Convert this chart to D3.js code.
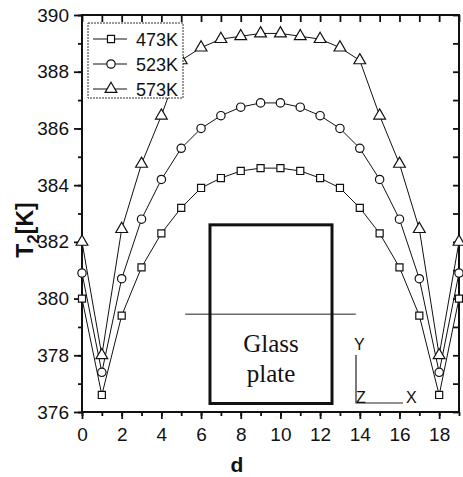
<!DOCTYPE html>
<html>
<head>
<meta charset="utf-8">
<script src="https://cdnjs.cloudflare.com/ajax/libs/d3/7.8.5/d3.min.js"></script>
<style>
	body { margin: 0; background: #fff; }
	text { font-family: Arial, "Liberation Sans", sans-serif; fill: #111; }
	.series path.line { fill: none; stroke: #111; stroke-width: 1; }
	.mark { fill: #fff; stroke: #111; stroke-width: 1.2; }
</style>
</head>
<body>
<div id="chart"></div>
<script>
// data
var dValues = d3.range(0, 20);
var seriesNames = ["473K", "523K", "573K"];
var t473 = [380.0, 376.6, 379.4, 381.1, 382.3, 383.2, 383.9, 384.25, 384.5, 384.6,
            384.6, 384.5, 384.25, 383.9, 383.2, 382.3, 381.1, 379.4, 376.6, 380.0];
var t523 = [380.9, 377.4, 380.7, 382.8, 384.2, 385.3, 386.0, 386.45, 386.75, 386.9,
            386.9, 386.75, 386.45, 386.0, 385.3, 384.2, 382.8, 380.7, 377.4, 380.9];
var t573 = [382.0, 378.0, 382.45, 384.75, 386.45, 388.4, 388.85, 389.15, 389.25, 389.35,
            389.35, 389.25, 389.15, 388.85, 388.4, 386.45, 384.75, 382.45, 378.0, 382.0];
var xTicks = [0, 2, 4, 6, 8, 10, 12, 14, 16, 18];
var yTicks = [376, 378, 380, 382, 384, 386, 388, 390];
var symbols = [d3.symbolSquare, d3.symbolCircle, d3.symbolTriangle];

var W = 463, H = 477;
var margin = {left: 82, top: 15, right: 4, bottom: 65};

var svg = d3.select("#chart").append("svg")
	.attr("width", W).attr("height", H);

var x = d3.scaleLinear().domain([0, 19]).range([margin.left, W - margin.right]);
var y = d3.scaleLinear().domain([376, 390]).range([H - margin.bottom, margin.top]);

// glass plate sketch (in data coords)
var g0 = svg.append("g");
var serif = "'Liberation Serif', 'DejaVu Serif', serif";
g0.append("line")
	.attr("x1", x(5.2)).attr("x2", x(13.8))
	.attr("y1", y(379.45)).attr("y2", y(379.45))
	.attr("stroke", "#222").attr("stroke-width", 1);
g0.append("rect")
	.attr("x", x(6.45)).attr("y", y(382.6))
	.attr("width", x(12.6) - x(6.45)).attr("height", y(376.3) - y(382.6))
	.attr("fill", "none").attr("stroke", "#111").attr("stroke-width", 3);
g0.append("text").attr("x", (x(6.45) + x(12.6)) / 2).attr("y", 352)
	.attr("text-anchor", "middle").style("font-family", serif)
	.style("font-size", "25px").text("Glass");
g0.append("text").attr("x", (x(6.45) + x(12.6)) / 2).attr("y", 382)
	.attr("text-anchor", "middle").style("font-family", serif)
	.style("font-size", "25px").text("plate");
// little coordinate icon
g0.append("path").attr("d", "M356,355V403H403").attr("fill", "none").attr("stroke", "#222").attr("stroke-width", 1.2);
g0.append("text").attr("x", 354).attr("y", 350).style("font-size", "16px").text("Y");
g0.append("text").attr("x", 356).attr("y", 403).style("font-size", "16px").text("Z");
g0.append("text").attr("x", 406).attr("y", 403).style("font-size", "16px").text("X");

// frame
svg.append("rect")
	.attr("x", x(0)).attr("y", y(390))
	.attr("width", x(19) - x(0)).attr("height", y(376) - y(390))
	.attr("fill", "none").attr("stroke", "#111").attr("stroke-width", 2);

// axes: bottom/left ticks outward, top/right mirror ticks inward
var minorX = d3.range(0, 20), minorY = d3.range(376, 391);
var axB = d3.axisBottom(x).tickValues(xTicks).tickSize(7).tickPadding(9).tickFormat(d3.format("d"));
var axBm = d3.axisBottom(x).tickValues(minorX).tickSize(4).tickFormat("");
var axT = d3.axisTop(x).tickValues(minorX).tickSize(-7).tickFormat("");
var axL = d3.axisLeft(y).tickValues(yTicks).tickSize(8).tickPadding(5).tickFormat(d3.format("d"));
var axLm = d3.axisLeft(y).tickValues(minorY).tickSize(4).tickFormat("");
var axR = d3.axisRight(y).tickValues(minorY).tickSize(-6).tickFormat("");

function styleAxis(g) {
	g.select(".domain").remove();
	g.selectAll(".tick line").attr("stroke", "#111").attr("stroke-width", 1.8);
	g.selectAll(".tick text").style("font-size", "19px").style("font-family", "Arial, 'Liberation Sans', sans-serif").attr("fill", "#111");
}
svg.append("g").attr("transform", "translate(0," + y(376) + ")").call(axB).call(styleAxis);
svg.append("g").attr("transform", "translate(0," + y(376) + ")").call(axBm).call(styleAxis);
svg.append("g").attr("transform", "translate(0," + y(390) + ")").call(axT).call(styleAxis);
svg.append("g").attr("transform", "translate(" + x(0) + ",0)").call(axL).call(styleAxis);
svg.append("g").attr("transform", "translate(" + x(0) + ",0)").call(axLm).call(styleAxis);
svg.append("g").attr("transform", "translate(" + x(19) + ",0)").call(axR).call(styleAxis);

// axis titles
svg.append("text").attr("x", 237).attr("y", 472).attr("text-anchor", "middle")
	.style("font-size", "21px").style("font-weight", "bold").text("d");
var yt = svg.append("text").attr("transform", "translate(33,230) rotate(-90)")
	.attr("text-anchor", "middle").style("font-size", "23px").style("font-weight", "bold");
yt.append("tspan").text("T");
yt.append("tspan").attr("dy", 6).style("font-size", "17px").text("2");
yt.append("tspan").attr("dy", -6).text("[K]");

// series
var allSeries = [t473, t523, t573];
var line = d3.line().x(function(d, i) { return x(dValues[i]); }).y(function(d) { return y(d); });
var sizes = [50, 55, 60];
allSeries.forEach(function(vals, k) {
	var g = svg.append("g").attr("class", "series");
	g.append("path").attr("class", "line").attr("d", line(vals));
	g.selectAll("path.mark").data(vals).enter().append("path")
		.attr("class", "mark")
		.attr("transform", function(d, i) { return "translate(" + x(dValues[i]) + "," + y(d) + ")"; })
		.attr("d", d3.symbol().type(symbols[k]).size(sizes[k]));
});

// legend
var lg = svg.append("g");
lg.append("rect").attr("x", 88).attr("y", 23).attr("width", 95).attr("height", 75)
	.attr("fill", "#fff").attr("stroke", "#333").attr("stroke-width", 1).attr("stroke-dasharray", "2,1");
seriesNames.forEach(function(name, k) {
	var yy = 39 + k * 25;
	lg.append("line").attr("x1", 93).attr("x2", 127).attr("y1", yy).attr("y2", yy)
		.attr("stroke", "#111").attr("stroke-width", 1);
	lg.append("path").attr("class", "mark").attr("transform", "translate(111," + yy + ")")
		.attr("d", d3.symbol().type(symbols[k]).size(sizes[k]));
	lg.append("text").attr("x", 136).attr("y", yy + 7).style("font-size", "18px").text(name);
});
</script>
</body>
</html>
